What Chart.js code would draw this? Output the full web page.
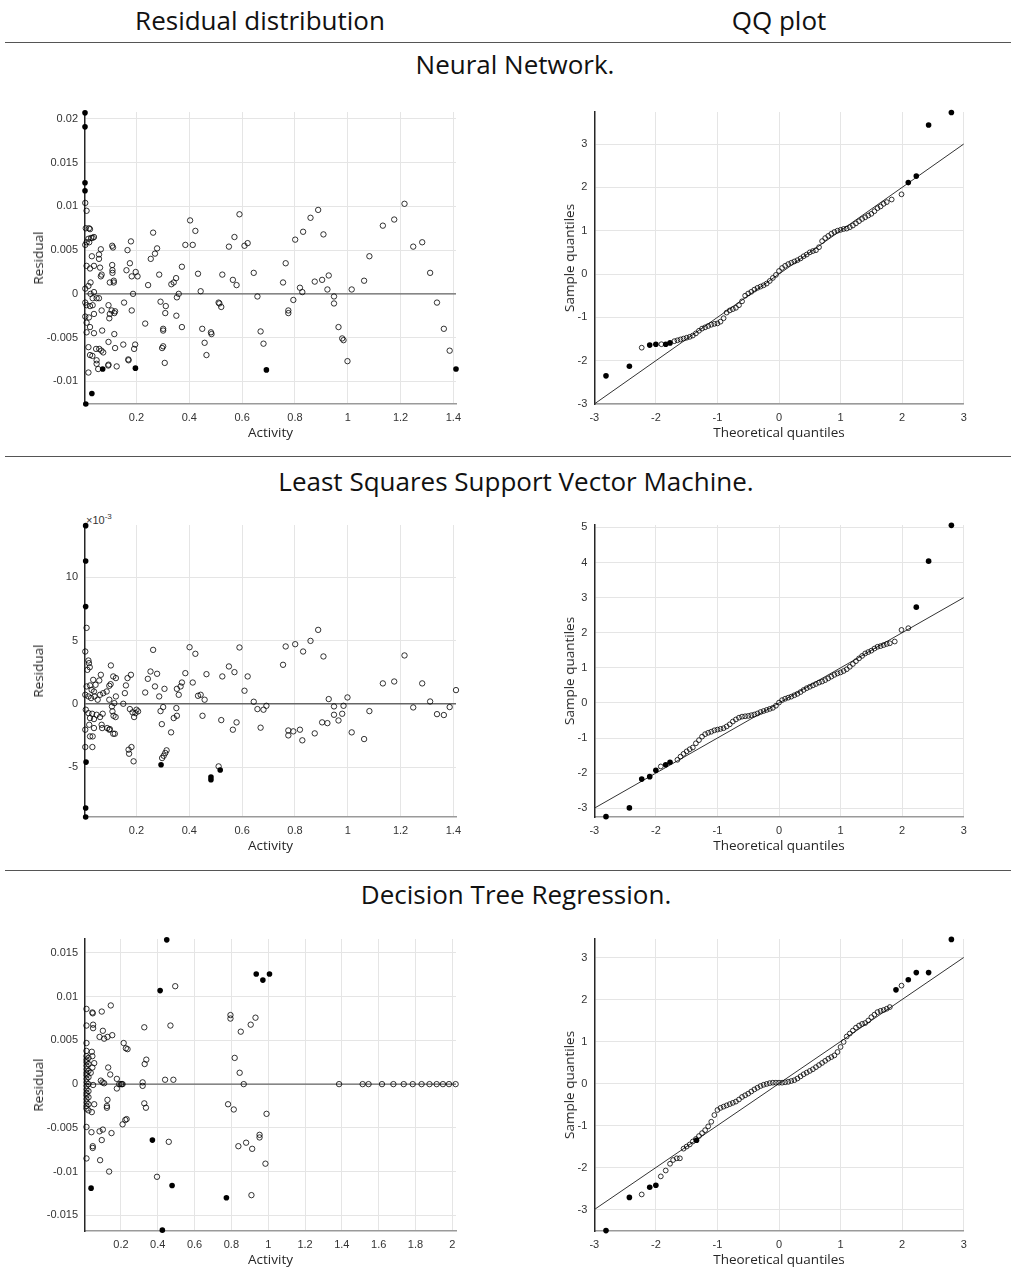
<!DOCTYPE html>
<html>
<head>
<meta charset="utf-8">
<title>Residual distribution and QQ plots</title>
<script src="https://cdn.jsdelivr.net/npm/chart.js@4.4.1/dist/chart.umd.min.js"></script>
<style>
  body { margin: 0; background: #fff; }
  #page { position: relative; width: 1011px; height: 1278px; overflow: hidden; font-family: "Open Sans", sans-serif; color: #111; }
  .head { position: absolute; font-size: 26px; white-space: nowrap; transform: translate(-50%, -50%); }
  .rule { position: absolute; left: 5px; width: 1006px; border-top: 1.5px solid #555; }
  .lab { position: absolute; font-size: 13.5px; color: #262626; white-space: nowrap; transform: translate(-50%, -50%); }
  .lab.rot { transform: translate(-50%, -50%) rotate(-90deg); }
  .exp { position: absolute; font: 11px "Liberation Sans", Arial, sans-serif; color: #333; }
  canvas { position: absolute; }
</style>
</head>
<body>
<div id="page">
  <div class="head" style="left:260px; top:20px">Residual distribution</div>
  <div class="head" style="left:779px; top:20px">QQ plot</div>
  <div class="rule" style="top:42px"></div>
  <div class="head" style="left:515px; top:64px">Neural Network.</div>
  <div class="rule" style="top:456px"></div>
  <div class="head" style="left:516px; top:481px">Least Squares Support Vector Machine.</div>
  <div class="rule" style="top:870px"></div>
  <div class="head" style="left:516px; top:894px">Decision Tree Regression.</div>
  <div class="exp" style="left:86px; top:512px">&times;10<sup style="font-size:8px">-3</sup></div>
</div>
<script>
// ---- Neural network -------------------------------------------------------
const nnResOpen = [
  [0.006,0.0104],[0.011,0.0095],[0.008,0.0075],[0.020,0.0075],[0.024,0.0074],[0.018,0.0063],[0.028,0.0064],
  [0.034,0.0064],[0.039,0.0065],[0.011,0.0059],[0.021,0.0059],[0.006,0.0056],[0.031,0.0043],[0.058,0.0045],
  [0.065,0.0051],[0.058,0.0040],[0.011,0.0032],[0.024,0.0029],[0.039,0.0032],[0.062,0.0030],[0.068,0.0022],
  [0.065,0.0020],[0.006,0.0006],[0.018,0.0009],[0.026,0.0013],[0.026,0.0000],[0.039,0.0002],[0.049,-0.0005],
  [0.058,-0.0005],[0.034,-0.0005],[0.006,-0.0010],[0.011,-0.0013],[0.024,-0.0014],[0.034,-0.0013],[0.006,-0.0026],
  [0.020,-0.0027],[0.039,-0.0023],[0.068,-0.0019],[0.011,-0.0033],[0.024,-0.0038],[0.011,-0.0044],[0.039,-0.0045],
  [0.070,-0.0042],[0.018,-0.0061],[0.024,-0.0070],[0.033,-0.0071],[0.047,-0.0063],[0.059,-0.0063],[0.067,-0.0065],
  [0.074,-0.0067],[0.049,-0.0076],[0.049,-0.0080],[0.055,-0.0086],[0.018,-0.0090],[0.093,-0.0082],[0.094,-0.0081],
  [0.108,0.0055],[0.111,0.0053],[0.108,0.0033],[0.109,0.0027],[0.109,0.0024],[0.114,0.0015],[0.114,0.0013],
  [0.099,0.0013],[0.094,-0.0013],[0.106,-0.0019],[0.099,-0.0023],[0.097,-0.0028],[0.119,-0.0020],[0.116,-0.0022],
  [0.116,-0.0046],[0.094,-0.0055],[0.119,-0.0062],[0.125,-0.0083],[0.175,0.0035],[0.166,0.0050],[0.179,0.0060],
  [0.162,0.0027],[0.182,0.0020],[0.197,0.0025],[0.204,0.0020],[0.187,0.0000],[0.153,-0.0010],[0.182,-0.0019],
  [0.150,-0.0058],[0.169,-0.0075],[0.170,-0.0076],[0.191,-0.0063],[0.195,-0.0058],[0.233,-0.0034],[0.244,0.0010],
  [0.254,0.0040],[0.263,0.0070],[0.270,0.0046],[0.278,0.0052],[0.286,0.0022],[0.291,-0.0009],[0.311,-0.0014],
  [0.309,-0.0022],[0.301,-0.0040],[0.301,-0.0042],[0.297,-0.0062],[0.301,-0.0060],[0.307,-0.0079],[0.332,0.0011],
  [0.341,0.0013],[0.350,0.0018],[0.353,-0.0004],[0.360,0.0000],[0.351,-0.0025],[0.372,-0.0038],[0.372,0.0031],
  [0.385,0.0056],[0.403,0.0084],[0.413,0.0056],[0.423,0.0072],[0.433,0.0023],[0.443,0.0003],[0.449,-0.0040],
  [0.458,-0.0056],[0.465,-0.0070],[0.482,-0.0044],[0.484,-0.0046],[0.511,-0.0010],[0.514,-0.0011],[0.521,-0.0015],
  [0.525,0.0022],[0.550,0.0054],[0.571,0.0065],[0.565,0.0016],[0.579,0.0010],[0.590,0.0091],[0.609,0.0055],
  [0.621,0.0058],[0.644,0.0024],[0.658,-0.0003],[0.670,-0.0043],[0.681,-0.0057],[0.755,0.0013],[0.765,0.0035],
  [0.775,-0.0019],[0.775,-0.0022],[0.794,-0.0007],[0.801,0.0062],[0.819,0.0007],[0.828,0.0002],[0.831,0.0071],
  [0.859,0.0087],[0.875,0.0014],[0.888,0.0096],[0.903,0.0016],[0.908,0.0068],[0.923,0.0005],[0.928,0.0021],
  [0.948,-0.0003],[0.948,-0.0011],[0.965,-0.0038],[0.979,-0.0051],[0.984,-0.0053],[0.999,-0.0077],[1.015,0.0005],
  [1.062,0.0015],[1.082,0.0043],[1.133,0.0078],[1.176,0.0085],[1.215,0.0103],[1.248,0.0054],[1.282,0.0059],
  [1.312,0.0024],[1.338,-0.0010],[1.364,-0.0040],[1.386,-0.0065]
];
const nnResOut = [
  [0.005,0.0207],[0.005,0.0191],[0.005,0.0127],[0.005,0.0118],[0.072,-0.0086],[0.196,-0.0085],
  [0.031,-0.0114],[0.008,-0.0126],[0.692,-0.0087],[1.410,-0.0086]
];
const nnQqX = [-2.23,-1.91,-1.70,-1.65,-1.60,-1.55,-1.50,-1.45,-1.40,-1.35,-1.30,-1.25,-1.20,-1.15,-1.10,-1.05,-1.00,
  -0.95,-0.90,-0.85,-0.80,-0.75,-0.70,-0.65,-0.60,-0.55,-0.50,-0.45,-0.40,-0.35,-0.30,-0.25,-0.20,-0.15,-0.10,-0.05,
  0,0.05,0.10,0.15,0.20,0.25,0.30,0.35,0.40,0.45,0.50,0.55,0.60,0.65,0.70,0.75,0.80,0.85,0.90,0.95,1.00,1.05,1.10,
  1.15,1.20,1.25,1.30,1.35,1.40,1.45,1.50,1.55,1.60,1.65,1.70,1.75,1.83,1.99];
const nnQqY = [-1.70,-1.62,-1.55,-1.53,-1.51,-1.49,-1.47,-1.45,-1.42,-1.37,-1.31,-1.26,-1.23,-1.20,-1.17,-1.15,-1.14,
  -1.10,-1.02,-0.89,-0.84,-0.81,-0.78,-0.72,-0.63,-0.50,-0.45,-0.41,-0.36,-0.32,-0.29,-0.26,-0.22,-0.16,-0.09,-0.02,
  0.07,0.14,0.19,0.23,0.26,0.29,0.32,0.36,0.41,0.45,0.50,0.53,0.55,0.62,0.76,0.83,0.88,0.93,0.97,1.00,1.02,1.04,1.05,
  1.08,1.12,1.17,1.22,1.27,1.31,1.35,1.39,1.45,1.52,1.56,1.62,1.66,1.72,1.84];
const nnQqOutX = [-2.81,-2.43,-2.10,-2.00,-1.84,-1.77,2.10,2.23,2.43,2.80];
const nnQqOutY = [-2.35,-2.13,-1.64,-1.62,-1.62,-1.59,2.11,2.26,3.44,3.73];

// ---- LS-SVM (residuals in units of 1e-3) ---------------------------------
const svmResOpen = [
  [0.011,6.00],[0.006,4.13],[0.018,3.42],[0.020,3.21],[0.023,2.89],[0.014,2.68],[0.065,2.29],[0.036,1.89],
  [0.059,1.84],[0.045,1.50],[0.011,1.37],[0.024,1.45],[0.030,1.10],[0.039,0.97],[0.006,0.71],[0.018,0.58],
  [0.028,0.45],[0.041,0.58],[0.053,0.32],[0.062,0.71],[0.074,0.84],[0.087,0.97],[0.097,1.42],[0.102,1.55],
  [0.103,3.03],[0.112,2.16],[0.122,2.03],[0.122,0.58],[0.008,-0.47],[0.018,-0.74],[0.024,-1.13],[0.039,-1.21],
  [0.032,-0.79],[0.049,-0.87],[0.062,-1.05],[0.072,-0.79],[0.006,-2.05],[0.021,-1.66],[0.039,-1.92],[0.024,-2.58],
  [0.034,-2.58],[0.006,-3.42],[0.033,-3.42],[0.068,-1.66],[0.070,-1.92],[0.089,-1.92],[0.097,-2.05],[0.099,-2.00],
  [0.112,-2.37],[0.118,-2.37],[0.107,-0.21],[0.109,-0.60],[0.113,-0.95],[0.121,-1.05],[0.116,0.05],[0.097,0.32],
  [0.150,0.00],[0.156,0.84],[0.160,1.45],[0.166,2.03],[0.179,2.29],[0.175,-0.42],[0.185,-0.68],[0.191,-1.05],
  [0.196,-0.74],[0.200,-0.47],[0.206,-0.60],[0.170,-3.63],[0.172,-3.95],[0.181,-3.42],[0.189,-4.55],[0.233,0.89],
  [0.243,1.97],[0.253,2.55],[0.263,4.26],[0.270,1.37],[0.278,2.37],[0.286,0.58],[0.291,-0.58],[0.301,-0.26],
  [0.306,1.18],[0.296,-1.61],[0.297,-4.29],[0.303,-4.11],[0.309,-3.89],[0.314,-3.68],[0.331,-2.26],[0.341,-1.13],
  [0.351,-0.34],[0.353,-0.95],[0.353,1.18],[0.360,0.71],[0.367,1.37],[0.372,1.68],[0.385,2.42],[0.401,4.47],
  [0.413,1.68],[0.423,3.95],[0.433,0.63],[0.443,0.71],[0.450,-0.95],[0.458,0.32],[0.465,2.34],[0.511,-4.95],
  [0.521,-1.29],[0.525,2.16],[0.550,2.95],[0.571,2.50],[0.565,-2.05],[0.579,-1.47],[0.590,4.45],[0.609,1.03],
  [0.621,2.16],[0.644,0.16],[0.658,-0.42],[0.670,-1.89],[0.681,-0.47],[0.692,-0.16],[0.755,3.08],[0.765,4.53],
  [0.775,-2.11],[0.775,-2.50],[0.794,-2.18],[0.801,4.71],[0.819,-2.05],[0.828,-2.89],[0.831,4.13],[0.859,4.97],
  [0.875,-2.34],[0.888,5.84],[0.903,-1.47],[0.908,3.74],[0.923,-1.53],[0.928,0.37],[0.948,-0.21],[0.948,-0.87],
  [0.965,-1.32],[0.979,-0.79],[0.984,-0.16],[0.999,0.50],[1.015,-2.26],[1.062,-2.79],[1.082,-0.58],[1.133,1.61],
  [1.176,1.76],[1.215,3.82],[1.248,-0.29],[1.282,1.61],[1.312,0.18],[1.338,-0.82],[1.364,-0.89],[1.386,-0.26],
  [1.410,1.08]
];
const svmResOut = [
  [0.0075,14.08],[0.0075,11.29],[0.0075,7.68],[0.009,-4.61],[0.0075,-8.24],[0.0075,-8.95],
  [0.293,-4.82],[0.482,-5.79],[0.482,-6.00],[0.517,-5.24]
];
const svmQqX = [-1.92,-1.65,-1.60,-1.55,-1.50,-1.45,-1.40,-1.35,-1.30,-1.25,-1.20,-1.15,-1.10,-1.05,-1.00,-0.95,-0.90,
  -0.85,-0.80,-0.75,-0.70,-0.65,-0.60,-0.55,-0.50,-0.45,-0.40,-0.35,-0.30,-0.25,-0.20,-0.15,-0.10,-0.05,0,0.05,0.10,
  0.15,0.20,0.25,0.30,0.35,0.40,0.45,0.50,0.55,0.60,0.65,0.70,0.75,0.80,0.85,0.90,0.95,1.00,1.05,1.10,1.15,1.20,1.25,
  1.30,1.35,1.40,1.45,1.50,1.55,1.60,1.65,1.70,1.75,1.80,1.88,1.99,2.10];
const svmQqY = [-1.81,-1.62,-1.53,-1.45,-1.38,-1.32,-1.27,-1.15,-1.06,-0.96,-0.89,-0.85,-0.82,-0.78,-0.76,-0.74,-0.72,
  -0.67,-0.61,-0.53,-0.47,-0.42,-0.39,-0.38,-0.37,-0.35,-0.33,-0.30,-0.26,-0.23,-0.20,-0.17,-0.14,-0.08,0.01,0.08,0.12,
  0.15,0.18,0.22,0.26,0.31,0.37,0.42,0.46,0.50,0.54,0.58,0.61,0.65,0.70,0.75,0.80,0.84,0.87,0.91,0.96,1.03,1.11,1.19,
  1.27,1.34,1.41,1.45,1.49,1.55,1.60,1.62,1.65,1.68,1.70,1.75,2.08,2.13];
const svmQqOutX = [-2.81,-2.43,-2.23,-2.10,-2.00,-1.84,-1.77,2.23,2.43,2.80];
const svmQqOutY = [-3.24,-2.99,-2.17,-2.10,-1.92,-1.76,-1.69,2.73,4.04,5.06];

// ---- Decision tree --------------------------------------------------------
const treeResOpen = [
  [0.013,0.0086],[0.013,0.0067],[0.013,0.0047],[0.013,0.0038],[0.013,0.0032],[0.013,0.0028],[0.013,0.0025],
  [0.013,0.0021],[0.013,0.0017],[0.013,0.0013],[0.013,0.0010],[0.013,0.0006],[0.013,0.0002],[0.013,-0.0002],
  [0.013,-0.0006],[0.013,-0.0010],[0.013,-0.0013],[0.013,-0.0017],[0.013,-0.0021],[0.013,-0.0025],[0.013,-0.0028],
  [0.013,-0.0049],[0.013,-0.0085],[0.024,0.0030],[0.024,0.0023],[0.024,0.0015],[0.024,0.0008],[0.024,0.0000],
  [0.024,-0.0008],[0.024,-0.0015],[0.024,-0.0023],[0.024,-0.0030],[0.045,0.0082],[0.047,0.0081],[0.049,0.0068],
  [0.049,0.0064],[0.042,0.0037],[0.045,0.0032],[0.055,0.0024],[0.045,0.0019],[0.036,0.0013],[0.049,-0.0001],
  [0.055,-0.0023],[0.042,-0.0032],[0.040,-0.0055],[0.047,-0.0071],[0.047,-0.0073],[0.087,-0.0087],[0.136,-0.0100],
  [0.096,0.0083],[0.145,0.0090],[0.102,0.0061],[0.084,0.0054],[0.109,0.0052],[0.127,0.0054],[0.153,0.0056],
  [0.091,0.0004],[0.100,0.0002],[0.109,0.0001],[0.131,0.0019],[0.142,0.0011],[0.102,-0.0052],[0.084,-0.0054],
  [0.149,-0.0056],[0.096,-0.0064],[0.127,-0.0018],[0.124,-0.0025],[0.124,-0.0027],[0.178,0.0006],[0.178,-0.0005],
  [0.191,0],[0.200,0],[0.205,0],[0.209,0],[0.215,0.0047],[0.227,0.0041],[0.236,0.0040],[0.209,-0.0046],
  [0.224,-0.0041],[0.231,-0.0040],[0.318,0.0002],[0.318,-0.0002],[0.338,0.0028],[0.329,0.0023],[0.336,-0.0027],
  [0.327,0.0065],[0.327,-0.0022],[0.440,0.0005],[0.485,0.0005],[0.469,0.0067],[0.495,0.0112],[0.460,-0.0066],
  [0.396,-0.0106],[0.782,-0.0023],[0.813,-0.0029],[0.818,0.0030],[0.845,0.0013],[0.838,-0.0071],[0.795,0.0079],
  [0.795,0.0075],[0.851,0.0060],[0.905,0.0068],[0.931,0.0076],[0.867,0],[0.991,-0.0034],[0.953,-0.0058],
  [0.953,-0.0061],[0.880,-0.0067],[0.913,-0.0074],[0.985,-0.0091],[0.909,-0.0127],[1.385,0],[1.513,0],[1.545,0],
  [1.618,0],[1.680,0],[1.736,0],[1.785,0],[1.833,0],[1.876,0],[1.915,0],[1.949,0],[1.982,0],[2.018,0]
];
const treeResOut = [
  [0.449,0.0165],[0.413,0.0107],[0.038,-0.0119],[0.371,-0.0064],[0.478,-0.0116],[0.425,-0.0167],
  [0.773,-0.0130],[0.935,0.0126],[0.971,0.0119],[1.007,0.0126]
];
const treeQqX = [-2.23,-1.92,-1.84,-1.77,-1.72,-1.66,-1.61,-1.55,-1.50,-1.45,-1.40,-1.35,-1.30,-1.25,-1.20,-1.15,-1.10,
  -1.05,-1.00,-0.95,-0.90,-0.85,-0.80,-0.75,-0.70,-0.65,-0.60,-0.55,-0.50,-0.45,-0.40,-0.35,-0.30,-0.25,-0.20,-0.15,
  -0.10,-0.05,0,0.05,0.10,0.15,0.20,0.25,0.30,0.35,0.40,0.45,0.50,0.55,0.60,0.65,0.70,0.75,0.80,0.85,0.90,0.95,1.00,
  1.05,1.10,1.15,1.20,1.25,1.30,1.35,1.40,1.45,1.50,1.55,1.60,1.65,1.70,1.75,1.80,1.99];
const treeQqY = [-2.64,-2.21,-2.07,-1.91,-1.82,-1.78,-1.78,-1.55,-1.50,-1.45,-1.38,-1.32,-1.25,-1.18,-1.11,-1.02,-0.91,
  -0.75,-0.63,-0.58,-0.55,-0.52,-0.49,-0.46,-0.43,-0.38,-0.32,-0.28,-0.24,-0.19,-0.14,-0.10,-0.06,-0.03,-0.01,0.01,
  0.02,0.02,0.02,0.02,0.03,0.04,0.06,0.08,0.12,0.17,0.22,0.26,0.30,0.34,0.39,0.44,0.49,0.54,0.59,0.63,0.67,0.75,0.87,
  0.99,1.12,1.19,1.26,1.33,1.38,1.42,1.44,1.50,1.58,1.64,1.70,1.73,1.75,1.78,1.82,2.33];
const treeQqOutX = [-2.81,-2.43,-2.10,-2.00,-1.34,1.90,2.10,2.23,2.43,2.80];
const treeQqOutY = [-3.50,-2.71,-2.47,-2.42,-1.35,2.23,2.47,2.64,2.64,3.43];

// ---- axes -----------------------------------------------------------------
const actTicks = [0.2, 0.4, 0.6, 0.8, 1, 1.2, 1.4];
const actLabels = ['0.2', '0.4', '0.6', '0.8', '1', '1.2', '1.4'];
const actTicksTree = [0.2, 0.4, 0.6, 0.8, 1, 1.2, 1.4, 1.6, 1.8, 2];
const actLabelsTree = ['0.2', '0.4', '0.6', '0.8', '1', '1.2', '1.4', '1.6', '1.8', '2'];
const nnResTicks = [-0.01, -0.005, 0, 0.005, 0.01, 0.015, 0.02];
const nnResLabels = ['-0.01', '-0.005', '0', '0.005', '0.01', '0.015', '0.02'];
const svmResTicks = [-5, 0, 5, 10];
const svmResLabels = ['-5', '0', '5', '10'];
const treeResTicks = [-0.015, -0.01, -0.005, 0, 0.005, 0.01, 0.015];
const treeResLabels = ['-0.015', '-0.01', '-0.005', '0', '0.005', '0.01', '0.015'];
const qqTicks = [-3, -2, -1, 0, 1, 2, 3];
const qqLabels = ['-3', '-2', '-1', '0', '1', '2', '3'];
const svmQqTicks = [-3, -2, -1, 0, 1, 2, 3, 4, 5];
const svmQqLabels = ['-3', '-2', '-1', '0', '1', '2', '3', '4', '5'];
const refLineX = [-3, 3];

const AXW = 50, AXH = 34;
const tickFont = { family: '"Liberation Sans", Arial, sans-serif', size: 11 };
const page = document.getElementById('page');

const pairs = arr => arr.map(([x, y]) => ({ x, y }));
const zip = (xs, ys) => xs.map((x, i) => ({ x, y: ys[i] }));

function openSet(data, r) {
  return { data, pointRadius: r, pointBorderWidth: 0.8, backgroundColor: 'rgba(0,0,0,0)',
    pointBackgroundColor: 'rgba(0,0,0,0)', borderColor: '#000', pointBorderColor: '#000', clip: false };
}
function solidSet(data) {
  return { data, pointRadius: 2.8, pointBorderWidth: 0, backgroundColor: '#000',
    pointBackgroundColor: '#000', borderColor: '#000', clip: false };
}
function lineSet(data, color, width) {
  return { type: 'line', data, borderColor: color, borderWidth: width, pointRadius: 0, fill: false, clip: false };
}

function axis(range, ticks, labels, edge, fit) {
  return {
    type: 'linear', min: range[0], max: range[1],
    afterBuildTicks: s => { s.ticks = ticks.map(v => ({ value: v })); },
    afterFit: fit,
    ticks: { callback: (v, i) => labels[i], font: tickFont, color: '#333', padding: 7, autoSkip: false, maxRotation: 0 },
    grid: { color: '#e5e5e5', lineWidth: 1, drawTicks: false },
    border: { color: edge, width: 1.5 }
  };
}

function label(text, x, y, rot) {
  const d = document.createElement('div');
  d.className = rot ? 'lab rot' : 'lab';
  d.textContent = text;
  d.style.left = x + 'px';
  d.style.top = y + 'px';
  page.appendChild(d);
}

// plot = [left, top, right, bottom] of the plotting area in page pixels
function panel(p) {
  const [L, T, R, B] = p.plot;
  const left = p.right ? 520 : 0, top = T - 20, w = 480, h = B - T + 70;
  const c = document.createElement('canvas');
  c.width = w; c.height = h;
  c.style.left = left + 'px'; c.style.top = top + 'px';
  page.appendChild(c);
  new Chart(c, {
    type: 'scatter',
    data: { datasets: p.datasets },
    options: {
      responsive: false, animation: false, events: [],
      layout: { padding: { left: L - left - AXW, top: T - top, right: left + w - R, bottom: top + h - B - AXH } },
      plugins: { legend: { display: false }, tooltip: { enabled: false } },
      scales: {
        x: axis(p.xRange, p.xTicks, p.xLabels, '#9a9a9a', s => { s.height = AXH; }),
        y: axis(p.yRange, p.yTicks, p.yLabels, '#262626', s => { s.width = AXW; })
      }
    }
  });
  const mx = (L + R) / 2, my = (T + B) / 2;
  if (p.right) {
    label('Sample quantiles', 569, my, true);
    label('Theoretical quantiles', mx, B + 28);
  } else {
    label('Residual', 38, my, true);
    label('Activity', mx, B + 28);
  }
}

function residualPanel(plot, open, out, xRange, yRange, xTicks, xLabels, yTicks, yLabels) {
  panel({
    plot, xRange, yRange, xTicks, xLabels, yTicks, yLabels,
    datasets: [solidSet(pairs(out)), openSet(pairs(open), 2.7),
      lineSet([{ x: xRange[0], y: 0 }, { x: xRange[1], y: 0 }], '#666', 1.3)]
  });
}

function qqPanel(plot, qx, qy, ox, oy, yRange, yTicks, yLabels) {
  panel({
    plot, right: true, xRange: [-3, 3], yRange, xTicks: qqTicks, xLabels: qqLabels, yTicks, yLabels,
    datasets: [solidSet(zip(ox, oy)), openSet(zip(qx, qy), 2.4),
      lineSet(zip(refLineX, refLineX), '#333', 1)]
  });
}

residualPanel([85, 111.5, 456, 404], nnResOpen, nnResOut, [0.005, 1.41], [-0.0126, 0.0208],
  actTicks, actLabels, nnResTicks, nnResLabels);
qqPanel([594.3, 111.5, 963.7, 403.5], nnQqX, nnQqY, nnQqOutX, nnQqOutY, [-3, 3.74], qqTicks, qqLabels);

residualPanel([85, 525, 456, 817], svmResOpen, svmResOut, [0.005, 1.41], [-8.95, 14.13],
  actTicks, actLabels, svmResTicks, svmResLabels);
qqPanel([594.3, 525, 963.7, 817], svmQqX, svmQqY, svmQqOutX, svmQqOutY, [-3.25, 5.07], svmQqTicks, svmQqLabels);

residualPanel([85, 938.5, 456, 1231], treeResOpen, treeResOut, [0.005, 2.02], [-0.0168, 0.0166],
  actTicksTree, actLabelsTree, treeResTicks, treeResLabels);
qqPanel([594.3, 938.5, 963.7, 1231], treeQqX, treeQqY, treeQqOutX, treeQqOutY, [-3.51, 3.44], qqTicks, qqLabels);
</script>
</body>
</html>
